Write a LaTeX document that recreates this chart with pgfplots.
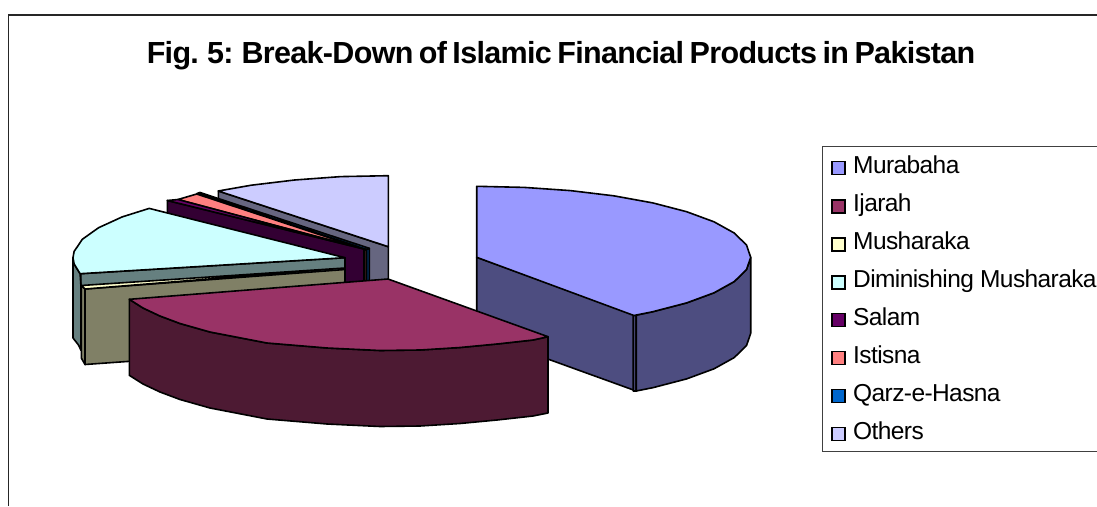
\documentclass[border=0pt]{standalone}
\usepackage{fontspec}
\setmainfont{Liberation Sans}
\newfontfamily\titlefont[LetterSpace=-2.2,WordSpace=0.7]{Liberation Sans}
\newfontfamily\keyfont[LetterSpace=-2.4]{Liberation Sans}
\usepackage{pgfplots}
\pgfplotsset{compat=1.18}
% Slice colours: top faces and their shaded sides
\definecolor{murTop}{HTML}{9999FF}\definecolor{murSide}{HTML}{4D4D80}
\definecolor{ijaTop}{HTML}{993366}\definecolor{ijaSide}{HTML}{4D1A33}
\definecolor{musTop}{HTML}{FFFFCC}\definecolor{musSide}{HTML}{808066}
\definecolor{dimTop}{HTML}{CCFFFF}\definecolor{dimSide}{HTML}{668080}
\definecolor{salTop}{HTML}{660066}\definecolor{salSide}{HTML}{330033}
\definecolor{istTop}{HTML}{FF8080}\definecolor{istSide}{HTML}{804040}
\definecolor{qarTop}{HTML}{0066CC}\definecolor{qarSide}{HTML}{003366}
\definecolor{othTop}{HTML}{CCCCFF}\definecolor{othSide}{HTML}{666680}
\pgfplotsset{face/.style={draw=black,line width=1.6pt,line join=round,fill=#1,mark=none}}
\newcommand{\legrow}[3]{%
  \filldraw[fill=#1,draw=black,line width=1.1pt] (axis cs:832,#2-6.5) rectangle (axis cs:845,#2+6.5);
  \node[anchor=base west,inner sep=0pt,font=\keyfont\fontsize{24.5}{24.5}\selectfont] at (axis cs:853,#2+5.2) {#3};}
\begin{document}
\begin{tikzpicture}
\useasboundingbox (0,0) rectangle (1097pt,506pt);
\begin{axis}[at={(0,0)},anchor=south west,scale only axis,width=1097pt,height=506pt,
  xmin=0,xmax=1097,ymin=0,ymax=506,y dir=reverse,hide axis,clip=false]
% Others
\addplot[face=othSide] coordinates {(218.3,191) (388.3,246.7) (388.3,322) (218.3,267)} -- cycle;
\addplot[face=othTop] coordinates {(388.3,246.7) (388.3,175.7) (340.7,176.6) (294.6,180) (251.3,185.2) (218.3,191)} -- cycle;
% Qarz-e-Hasna
\addplot[face=qarSide] coordinates {(366.5,249.5) (369.3,248.3) (369.3,300) (366.5,300)} -- cycle;
\addplot[face=qarTop] coordinates {(197,193.5) (200,192.5) (369.3,248.3) (366.5,249.5)} -- cycle;
% Istisna
\addplot[face=istSide] coordinates {(364,249) (366.2,250) (366.2,300) (364,300)} -- cycle;
\addplot[face=istTop] coordinates {(178,199.5) (196.7,194) (366.2,250)} -- cycle;
% Salam
\addplot[face=salSide] coordinates {(167.3,200.5) (364,249) (364,325) (167.3,277)} -- cycle;
\addplot[face=salTop] coordinates {(167.3,200.5) (178,199.5) (364,249)} -- cycle;
% Diminishing Musharaka
\addplot[face=dimSide] coordinates {(80.7,273.7) (345,257.7) (345,333) (80.7,350)} -- cycle;
\addplot[face=dimSide] coordinates {(73,257.7) (74.1,263.9) (80.1,273.7) (81,287) (81,350) (78.5,345) (73,338)} -- cycle;
\addplot[face=dimTop] coordinates {(345,257.7) (149.2,208.4) (122.2,216.9) (98.6,227.7) (82.3,239.3) (74.1,251.5) (73,257.7) (74.1,263.9) (80.1,273.7)} -- cycle;
% Musharaka
\addplot[face=musSide] coordinates {(81.3,285.5) (85,289) (85,364.5) (81.3,358)} -- cycle;
\addplot[face=musSide] coordinates {(85,289) (345,269.5) (345,346) (85,364.5)} -- cycle;
\addplot[face=musTop] coordinates {(81.3,285.5) (345,268) (85,289)} -- cycle;
% Murabaha
\addplot[face=murSide] coordinates {(476.7,257.3) (636.2,315.2) (636.2,391) (476.7,333.3)} -- cycle;
\addplot[face=murSide] coordinates {(633.2,315.5) (636.2,315.2) (636.2,391) (633.2,391)} -- cycle;
\addplot[face=murSide] coordinates {(750.7,257.3) (746.5,269.6) (734.2,281.6) (714,292.8) (686.6,302.9) (652.8,311.7) (636.2,315.2) (636.2,391) (652.8,387.7) (686.6,378.9) (714,368.8) (734.2,357.6) (746.5,345.6) (750.7,333.3)} -- cycle;
\addplot[face=murTop] coordinates {(476.7,257.3) (476.7,186.3) (524.3,187.4) (570.4,190.6) (613.7,195.8) (652.8,202.9) (686.6,211.7) (714,221.8) (734.2,233) (746.5,245) (750.7,257.3) (746.5,269.6) (734.2,281.6) (714,292.8) (686.6,302.9) (652.8,311.7) (633.9,315.5)} -- cycle;
% Ijarah
\addplot[face=ijaSide] coordinates {(548,336.7) (533,340) (497,344) (460,347.5) (420,350) (380,350.5) (327,348) (267,343) (210,332) (180,323.5) (160,316) (143,308) (129.3,299.3) (129.3,375.3) (143,384) (160,392) (180,399.5) (210,408) (267,419) (327,424) (380,426.5) (420,426) (460,423.5) (497,420) (533,416) (548,413)} -- cycle;
\addplot[face=ijaTop] coordinates {(388,279) (548,336.7) (533,340) (497,344) (460,347.5) (420,350) (380,350.5) (327,348) (267,343) (210,332) (180,323.5) (160,316) (143,308) (129.3,299.3)} -- cycle;
% Chart frame, title and legend
\draw[line width=1.1pt,black!85] (axis cs:8.5,506) -- (axis cs:8.5,15) -- (axis cs:1097,15);
\node[anchor=base,inner sep=0pt,font=\titlefont\fontsize{30.5}{30.5}\bfseries] at (axis cs:561,63) {Fig. 5: Break-Down of Islamic Financial Products in Pakistan};
\draw[line width=1.1pt,black!75] (axis cs:1097,146.7) -- (axis cs:822.3,146.7) -- (axis cs:822.3,451.7) -- (axis cs:1097,451.7);
\legrow{murTop}{168.3}{Murabaha}
\legrow{ijaTop}{206.5}{Ijarah}
\legrow{musTop}{244.5}{Musharaka}
\legrow{dimTop}{282.5}{Diminishing Musharaka}
\legrow{salTop}{320}{Salam}
\legrow{istTop}{358}{Istisna}
\legrow{qarTop}{396}{Qarz-e-Hasna}
\legrow{othTop}{434}{Others}
\end{axis}
\end{tikzpicture}
\end{document}
